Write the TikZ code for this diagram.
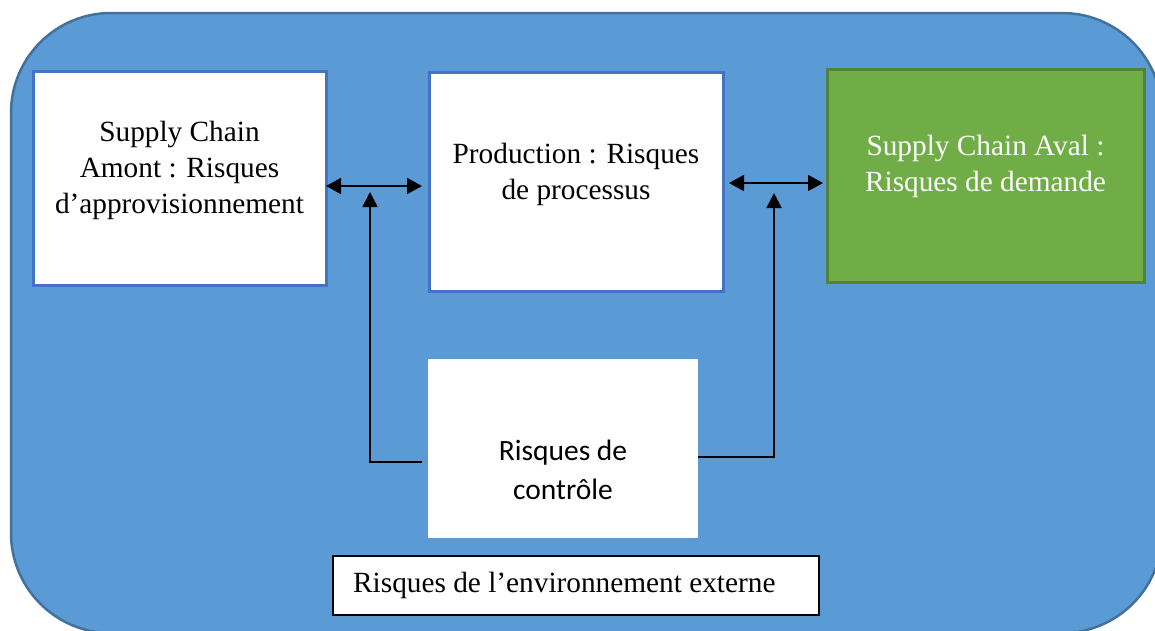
\documentclass[tikz,border=0pt]{standalone}
\usepackage{fontspec}
\setmainfont{Liberation Serif}
\newfontfamily\sansbody{Carlito}
\usetikzlibrary{arrows.meta}
\definecolor{bgblue}{HTML}{5B9BD5}
\definecolor{bgedge}{HTML}{41719C}
\definecolor{boxedge}{HTML}{4472C4}
\definecolor{leafgreen}{HTML}{70AD47}
\definecolor{leafedge}{HTML}{548235}

\begin{document}
\begin{tikzpicture}[x=1pt,y=-1pt,
  box/.style={rectangle, inner sep=0pt, outer sep=0pt, fill=white},
  bluebox/.style={box, draw=boxedge, line width=3pt},
  txt/.style={font=\fontsize{29.3}{36}\selectfont, align=center, inner sep=0pt},
  sanstxt/.style={font=\sansbody\fontsize{29.5}{39}\selectfont, align=center, inner sep=0pt},
  link/.style={line width=1.8pt, draw=black},
  dbl/.style={link, {Triangle[length=15pt,width=16pt]}-{Triangle[length=15pt,width=16pt]}},
  tip/.style={link, -{Triangle[length=15pt,width=15pt]}}
]
\useasboundingbox (0,0) rectangle (1155,630);
\clip (0,0) rectangle (1155,630);

% external environment frame
\draw[fill=bgblue, draw=bgedge, line width=2.5pt, rounded corners=100pt]
  (11,13) rectangle (1162,633);

% supply chain stages
\node[bluebox, minimum width=293pt, minimum height=214pt,
  label={[txt, name=satext, yshift=8pt]center:{Supply Chain\\Amont : Risques\\d’approvisionnement}}]
  (sa) at (179.5,178) {};
\node[bluebox, minimum width=294pt, minimum height=219pt,
  label={[txt, name=prodtext, yshift=8pt]center:{Production : Risques\\de processus}}]
  (prod) at (576,182) {};
\node[box, fill=leafgreen, draw=leafedge, line width=3pt, minimum width=317pt, minimum height=213pt,
  label={[txt, text=white, name=sdtext, yshift=9pt]center:{Supply Chain Aval :\\Risques de demande}}]
  (sd) at (985.5,175.5) {};

% control risks
\node[box, minimum width=270pt, minimum height=179pt,
  label={[sanstxt, name=ctrltext, yshift=-21.5pt]center:{Risques de\\contrôle}}]
  (ctrl) at (563,448.5) {};

% external environment caption
\node[box, draw=black, line width=2pt, minimum width=486pt, minimum height=59pt,
  label={[txt, name=envtext, anchor=west, xshift=20pt, yshift=0pt]west:{Risques de l’environnement externe}}]
  (env) at (576,585.5) {};

% flows between stages
\path ([yshift=-8pt]sa.east) coordinate (l1);
\path ([xshift=6pt,yshift=-1pt]prod.east) coordinate (r1);
\draw[dbl] (l1) -- ([xshift=-7pt]prod.west |- l1);
\draw[dbl] (r1) -- ([xshift=-4pt]sd.west |- r1);

% control feeding both links
\path (370,192) coordinate (up1);
\path (774,193) coordinate (up2);
\draw[tip] ([shift={(-6pt,-13.5pt)}]ctrl.west) -| (up1);
\draw[tip] ([yshift=-8.5pt]ctrl.east) -| (up2);
\end{tikzpicture}
\end{document}
